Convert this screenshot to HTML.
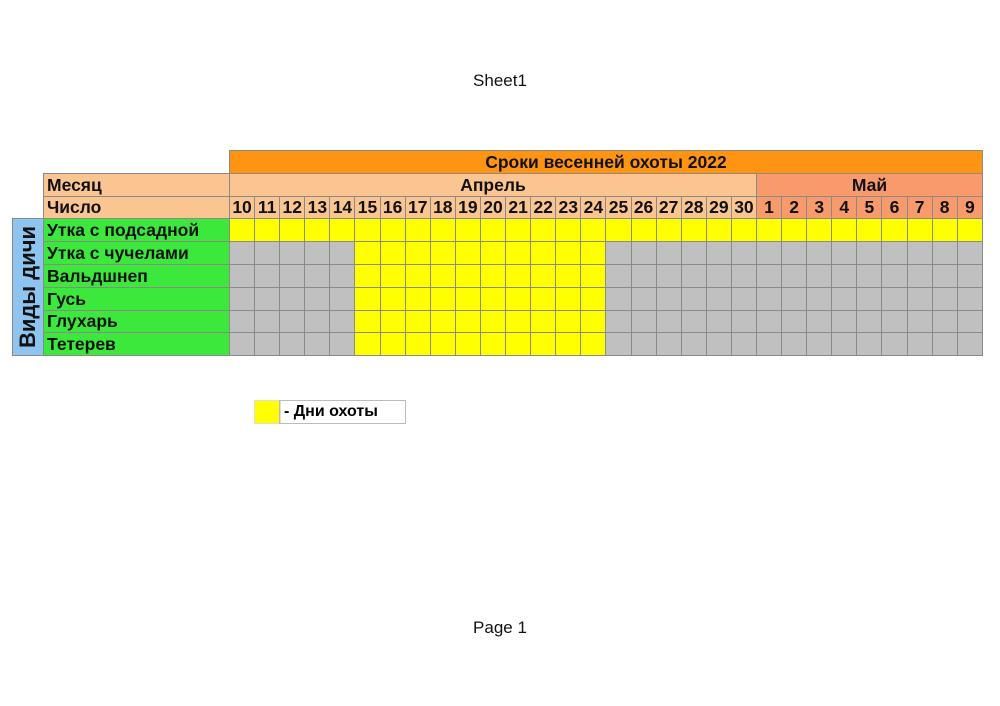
<!DOCTYPE html>
<html><head><meta charset="utf-8"><style>
body{margin:0;width:1000px;height:706px;background:#fff;position:relative;font-family:"Liberation Sans",sans-serif;}
.t{position:absolute;left:0;width:1000px;text-align:center;font-size:17px;color:#111;}
table{position:absolute;left:12px;top:150px;border-collapse:collapse;table-layout:fixed;width:970px;font-weight:bold;font-size:17.5px;color:#111;}
td{border:1px solid #8a8a8a;padding:0;height:21.8px;line-height:20px;overflow:hidden;white-space:nowrap;text-align:center;}
td.l{text-align:left;padding-left:3px;background:#3ce83c;}
.h{background:#fbc592;}
.m{background:#f89a6c;}
.y{background:#ffff00;}
.g{background:#c0c0c0;}
.o{background:#ff9412;}
.b{background:#8ec5f0;position:relative;}
.v{position:absolute;left:50%;top:50%;transform:translate(-50%,-50%) rotate(-90deg);font-size:22px;white-space:nowrap;}
.legend{position:absolute;top:400px;height:22px;border:1px solid #bbb;font-weight:bold;font-size:16px;line-height:22px;}
</style></head><body>
<div class="t" style="top:71px">Sheet1</div>
<div class="t" style="top:618px">Page 1</div>
<table>
<colgroup><col style="width:31px"><col style="width:186px">
<col span="30" style="width:25.1px"></colgroup>
<tr><td style="border:none"></td><td style="border:none"></td><td class="o" colspan="30">Сроки весенней охоты 2022</td></tr>
<tr><td style="border:none"></td><td class="h" style="text-align:left;padding-left:3px">Месяц</td><td class="h" colspan="21">Апрель</td><td class="m" colspan="9">Май</td></tr>
<tr><td style="border:none"></td><td class="h" style="text-align:left;padding-left:3px">Число</td>
<td class="h">10</td><td class="h">11</td><td class="h">12</td><td class="h">13</td><td class="h">14</td><td class="h">15</td><td class="h">16</td><td class="h">17</td><td class="h">18</td><td class="h">19</td><td class="h">20</td><td class="h">21</td><td class="h">22</td><td class="h">23</td><td class="h">24</td><td class="h">25</td><td class="h">26</td><td class="h">27</td><td class="h">28</td><td class="h">29</td><td class="h">30</td>
<td class="m">1</td><td class="m">2</td><td class="m">3</td><td class="m">4</td><td class="m">5</td><td class="m">6</td><td class="m">7</td><td class="m">8</td><td class="m">9</td></tr>
<tr><td class="b" rowspan="6"><span class="v">Виды дичи</span></td><td class="l">Утка с подсадной</td>
<td class="y"></td><td class="y"></td><td class="y"></td><td class="y"></td><td class="y"></td><td class="y"></td><td class="y"></td><td class="y"></td><td class="y"></td><td class="y"></td><td class="y"></td><td class="y"></td><td class="y"></td><td class="y"></td><td class="y"></td><td class="y"></td><td class="y"></td><td class="y"></td><td class="y"></td><td class="y"></td><td class="y"></td><td class="y"></td><td class="y"></td><td class="y"></td><td class="y"></td><td class="y"></td><td class="y"></td><td class="y"></td><td class="y"></td><td class="y"></td></tr>
<tr><td class="l">Утка с чучелами</td><td class="g"></td><td class="g"></td><td class="g"></td><td class="g"></td><td class="g"></td><td class="y"></td><td class="y"></td><td class="y"></td><td class="y"></td><td class="y"></td><td class="y"></td><td class="y"></td><td class="y"></td><td class="y"></td><td class="y"></td><td class="g"></td><td class="g"></td><td class="g"></td><td class="g"></td><td class="g"></td><td class="g"></td><td class="g"></td><td class="g"></td><td class="g"></td><td class="g"></td><td class="g"></td><td class="g"></td><td class="g"></td><td class="g"></td><td class="g"></td></tr>
<tr><td class="l">Вальдшнеп</td><td class="g"></td><td class="g"></td><td class="g"></td><td class="g"></td><td class="g"></td><td class="y"></td><td class="y"></td><td class="y"></td><td class="y"></td><td class="y"></td><td class="y"></td><td class="y"></td><td class="y"></td><td class="y"></td><td class="y"></td><td class="g"></td><td class="g"></td><td class="g"></td><td class="g"></td><td class="g"></td><td class="g"></td><td class="g"></td><td class="g"></td><td class="g"></td><td class="g"></td><td class="g"></td><td class="g"></td><td class="g"></td><td class="g"></td><td class="g"></td></tr>
<tr><td class="l">Гусь</td><td class="g"></td><td class="g"></td><td class="g"></td><td class="g"></td><td class="g"></td><td class="y"></td><td class="y"></td><td class="y"></td><td class="y"></td><td class="y"></td><td class="y"></td><td class="y"></td><td class="y"></td><td class="y"></td><td class="y"></td><td class="g"></td><td class="g"></td><td class="g"></td><td class="g"></td><td class="g"></td><td class="g"></td><td class="g"></td><td class="g"></td><td class="g"></td><td class="g"></td><td class="g"></td><td class="g"></td><td class="g"></td><td class="g"></td><td class="g"></td></tr>
<tr><td class="l">Глухарь</td><td class="g"></td><td class="g"></td><td class="g"></td><td class="g"></td><td class="g"></td><td class="y"></td><td class="y"></td><td class="y"></td><td class="y"></td><td class="y"></td><td class="y"></td><td class="y"></td><td class="y"></td><td class="y"></td><td class="y"></td><td class="g"></td><td class="g"></td><td class="g"></td><td class="g"></td><td class="g"></td><td class="g"></td><td class="g"></td><td class="g"></td><td class="g"></td><td class="g"></td><td class="g"></td><td class="g"></td><td class="g"></td><td class="g"></td><td class="g"></td></tr>
<tr><td class="l">Тетерев</td><td class="g"></td><td class="g"></td><td class="g"></td><td class="g"></td><td class="g"></td><td class="y"></td><td class="y"></td><td class="y"></td><td class="y"></td><td class="y"></td><td class="y"></td><td class="y"></td><td class="y"></td><td class="y"></td><td class="y"></td><td class="g"></td><td class="g"></td><td class="g"></td><td class="g"></td><td class="g"></td><td class="g"></td><td class="g"></td><td class="g"></td><td class="g"></td><td class="g"></td><td class="g"></td><td class="g"></td><td class="g"></td><td class="g"></td><td class="g"></td></tr>
</table>
<div class="legend" style="left:254px;width:25px;background:#ffff00;border-color:#ddd"></div>
<div class="legend" style="left:279px;width:121px;padding-left:4px">- Дни охоты</div>
</body></html>
